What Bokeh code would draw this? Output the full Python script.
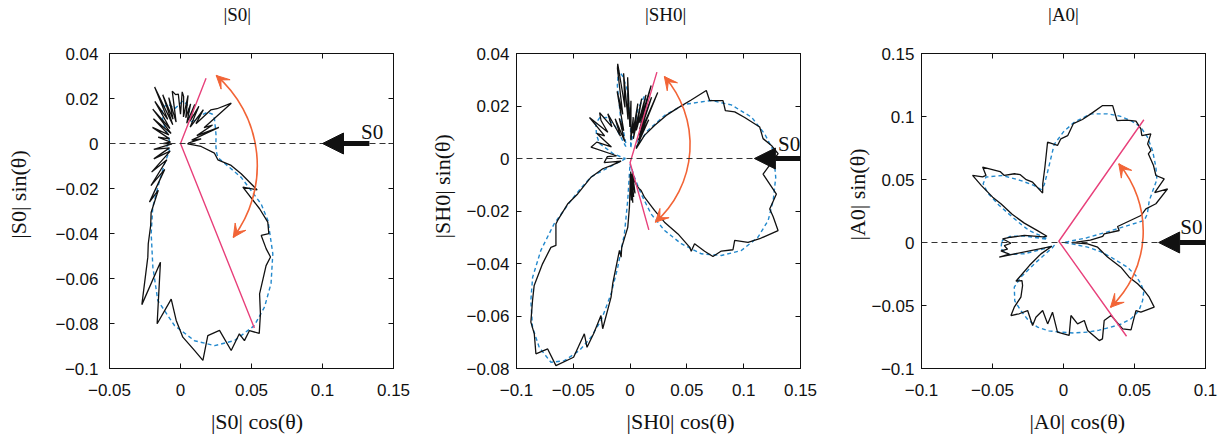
import numpy as np
from bokeh.plotting import figure
from bokeh.layouts import row
from bokeh.models import (Range1d, FixedTicker, LinearAxis, Span, Arrow,
                          NormalHead, VeeHead, Label)
from bokeh.embed import file_html
from bokeh.resources import INLINE

# ------------------------------------------------------------------
# DATA
# angles in degrees, amplitudes in the units of the axes
# ------------------------------------------------------------------

# ---- |S0| panel ----
s0_meas_theta = [-178, -172, -166, -160, -155, -148, -143, -138, -134, -130, -127, -124,
                 -120, -117, -114.5, -110.8, -105, -101.6, -95.4, -92.2, -88.9, -83.9,
                 -80.7, -78.5, -77.3, -71.7, -68.8, -63.9, -62.8, -59.7, -56.7, -53.4,
                 -50.2, -42, -38.5, -37.8, -35.7, -32.8, -29.6, -27.5, -23.8, -20.9,
                 -19.5, -17.5, -15.3, -15.4, -10.2, -5.2, -2,
                 3, 8, 11, 14.9, 17, 20, 23, 26.6, 31, 35, 39, 43, 47, 52, 56, 60, 64,
                 68, 72, 76, 80, 84, 87, 90, 94, 99, 104, 108, 112, 116, 120, 123, 126,
                 130, 134, 138, 142, 146, 150, 155, 160, 165, 170, 175, 180]
s0_meas_amp = [0.006, 0.019, 0.008, 0.020, 0.008, 0.024, 0.012, 0.028, 0.016, 0.034, 0.026, 0.037,
               0.042, 0.050, 0.0555, 0.0766, 0.0546, 0.0818, 0.0695, 0.0787, 0.0861, 0.0925,
               0.0977, 0.0908, 0.0875, 0.0875, 0.0987, 0.0942, 0.0985, 0.0963, 0.101, 0.0944,
               0.087, 0.0811, 0.081, 0.0764, 0.070, 0.074, 0.0707, 0.0628, 0.048, 0.0578,
               0.0516, 0.0448, 0.037, 0.0273, 0.0243, 0.0146, 0.005,
               0.006, 0.0147, 0.008, 0.028, 0.012, 0.024, 0.018, 0.040, 0.030, 0.026, 0.014,
               0.022, 0.010, 0.021, 0.012, 0.020, 0.010, 0.019, 0.012, 0.022, 0.012, 0.021,
               0.023, 0.013, 0.022, 0.022, 0.024, 0.010, 0.022, 0.012, 0.025, 0.010, 0.031,
               0.014, 0.026, 0.010, 0.0248, 0.008, 0.022, 0.009, 0.021, 0.008, 0.016, 0.007, 0.012]
s0_model_theta = [-180, -171, -158, -141.4, -129.5, -124.6, -117.3, -109.5, -102.9, -93,
                  -83.6, -75, -66.5, -57.3, -50.8, -44.3, -37, -29.1, -25.3, -19.4, -13.3,
                  -8, -3, 3, 8, 15, 24.7, 30, 36, 41, 47, 53, 60, 66, 75, 85, 95, 105,
                  112, 117, 125, 133, 141, 150, 160, 170]
s0_model_amp = [0.008, 0.0102, 0.0083, 0.0145, 0.0251, 0.0344, 0.045, 0.0583, 0.0716, 0.081,
                0.0882, 0.093, 0.0955, 0.0962, 0.0937, 0.0891, 0.0814, 0.0705, 0.0628, 0.0453,
                0.027, 0.0255, 0.025, 0.025, 0.0253, 0.0255, 0.0263, 0.026, 0.0237, 0.019,
                0.014, 0.012, 0.013, 0.0153, 0.018, 0.019, 0.017, 0.016, 0.018, 0.0197, 0.020,
                0.019, 0.016, 0.012, 0.009, 0.008]

# ---- |SH0| panel ----
sh0_meas_theta = [-176, -173, -170.9, -170.8, -168.3, -163.7, -162.5, -159.7, -159.1, -153.1,
                  -154.1, -152.5, -150.2, -147.8, -144.5, -141.6, -138.1, -135, -129.6, -123.3,
                  -121.1, -117.8, -115.7, -113.2, -110.4, -107.6, -107.8, -105, -101.9, -102.3,
                  -94.5, -91.8, -90, -88, -86, -84, -82, -80, -78, -75, -72, -69, -65.6, -60,
                  -55, -51.5, -49.4, -42.6, -38.7, -34.3, -32.8, -33.3, -29.8, -28.3, -27.1,
                  -23.7, -21, -18.7, -17.1, -15, -11.9, -10, -8.9, -6, -2.9, 0.8, 2.3, 3.7,
                  6, 8.8, 10.9, 12.3, 15.1, 17.5, 21.1, 22.5, 24.6, 27.3, 30.4, 34.9, 35,
                  38, 42, 44, 46, 48, 51, 53, 56.3, 58, 60, 63, 66, 69, 72, 76, 80, 84, 88,
                  91, 94, 97, 100, 103, 106.8, 108, 111, 114, 118, 122, 126, 131, 135, 139,
                  143, 147, 150.5, 153, 156.4, 159, 162, 165, 168, 172.9, 175, 178]
sh0_meas_amp = [0.023, 0.008, 0.017, 0.0244, 0.0351, 0.0481, 0.0577, 0.068, 0.0699, 0.0732,
                0.0775, 0.0869, 0.0973, 0.1015, 0.1073, 0.1076, 0.1114, 0.1026, 0.1024, 0.0906,
                0.078, 0.0813, 0.0741, 0.0651, 0.0692, 0.0554, 0.0501, 0.0362, 0.0384, 0.0346,
                0.0263, 0.0185, 0.0109, 0.006, 0.016, 0.005, 0.017, 0.006, 0.015, 0.006, 0.014,
                0.006, 0.0092, 0.012, 0.014, 0.0156, 0.0194, 0.0292, 0.0388, 0.051, 0.0623,
                0.0644, 0.0654, 0.0745, 0.0819, 0.0877, 0.097, 0.0972, 0.1086, 0.1181, 0.1331,
                0.1279, 0.1244, 0.1295, 0.1172, 0.1303, 0.1245, 0.1173, 0.1147, 0.1021, 0.0938,
                0.0858, 0.0847, 0.0734, 0.0719, 0.0582, 0.0463, 0.0358, 0.0249, 0.0154, 0.0065,
                0.008, 0.022, 0.010, 0.035, 0.012, 0.030, 0.014, 0.0334, 0.016, 0.028, 0.012,
                0.025, 0.008, 0.022, 0.010, 0.016, 0.007, 0.022, 0.012, 0.031, 0.015, 0.033,
                0.020, 0.0377, 0.036, 0.018, 0.028, 0.012, 0.018, 0.008, 0.020, 0.012, 0.026,
                0.020, 0.032, 0.0294, 0.022, 0.039, 0.024, 0.031, 0.017, 0.030, 0.0347, 0.012,
                0.020]
sh0_model_theta = [-180, -175, -170, -168.5, -165, -162.9, -159.6, -156, -152.2, -148.2, -143.2,
                   -138, -131.9, -126.9, -121.4, -116.8, -112.5, -108, -104.7, -99.9, -97.5,
                   -95.9, -90, -80, -70, -61.8, -54.3, -48.8, -42.1, -35.8, -30.1, -24.7, -19.7,
                   -14.9, -11, -7.2, -3.2, 1.4, 4.5, 8.4, 12.9, 17.2, 23.3, 28.4, 34.4, 39, 45,
                   48, 55, 62, 70, 77, 82, 88, 95, 101.6, 107, 112, 118, 124, 130, 137, 143,
                   150, 156, 163, 168, 173, 178]
sh0_model_amp = [0.004, 0.006, 0.018, 0.035, 0.046, 0.0545, 0.0713, 0.086, 0.097, 0.1028, 0.1073,
                 0.1076, 0.1043, 0.0963, 0.0857, 0.0763, 0.0668, 0.0543, 0.0428, 0.0291, 0.0161,
                 0.0058, 0.002, 0.004, 0.004, 0.008, 0.0166, 0.0281, 0.0409, 0.0555, 0.0724,
                 0.0884, 0.104, 0.1165, 0.1238, 0.127, 0.1284, 0.126, 0.1189, 0.108, 0.0914,
                 0.0748, 0.0521, 0.0345, 0.0189, 0.0068, 0.008, 0.018, 0.026, 0.027, 0.020,
                 0.008, 0.004, 0.012, 0.026, 0.032, 0.035, 0.030, 0.018, 0.006, 0.006, 0.018,
                 0.026, 0.031, 0.033, 0.031, 0.0276, 0.015, 0.006]

# ---- |A0| panel (pattern centred slightly left of x = 0) ----
a0_centre = [-0.003, 0.0]
a0_meas_theta = [-179, -176.4, -171.7, -170.9, -165.2, -164.7, -150, -145, -139, -135.9, -134.8,
                 -131, -127.1, -121.9, -121.7, -120.4, -116.5, -112.4, -105.9, -105.5, -102.2,
                 -97.2, -94.9, -91, -84.6, -81.9, -78.7, -74.1, -74, -70.1, -68.3, -62.9, -57.8,
                 -56.9, -53.9, -51.4, -45, -43.9, -37.5, -34.4, -32.5, -30.7, -29.2, -24.3,
                 -18.8, -7.8, -3.1, -1, 1.5, 5, 9, 12.3, 12.7, 17.2, 20.4, 23.6, 24.3, 29.2,
                 30.5, 34.3, 38, 42.6, 48.3, 48.5, 51.5, 53.2, 55.6, 57.5, 60.7, 64, 67.2, 70.9,
                 74.3, 77.7, 80.5, 84, 86, 89.2, 90.9, 95.9, 99.6, 104, 106.6, 111.4, 115, 117,
                 120, 126, 126.5, 132, 134.1, 136, 138.9, 140.5, 142.5, 143.2, 146, 148, 148.5,
                 150, 158, 167.2, 173, 175.8, 177.6]
a0_meas_amp = [0.034, 0.0388, 0.0368, 0.0416, 0.0364, 0.0438, 0.006, 0.0157, 0.0279, 0.0376,
               0.0433, 0.040, 0.0428, 0.0511, 0.0603, 0.0672, 0.0632, 0.0584, 0.0685, 0.0615,
               0.0552, 0.0651, 0.0555, 0.0712, 0.0741, 0.0585, 0.0659, 0.0644, 0.0726, 0.0828,
               0.0823, 0.0695, 0.0684, 0.0818, 0.0858, 0.0827, 0.0764, 0.0798, 0.0843, 0.0768,
               0.071, 0.0642, 0.0564, 0.0476, 0.0359, 0.0273, 0.020, 0.009, 0.012, 0.022, 0.031,
               0.0324, 0.0433, 0.043, 0.0614, 0.0666, 0.0747, 0.0874, 0.078, 0.0895, 0.0864,
               0.0902, 0.0943, 0.0975, 0.100, 0.1077, 0.1029, 0.107, 0.1104, 0.108, 0.105,
               0.115, 0.1129, 0.1045, 0.099, 0.0948, 0.085, 0.0823, 0.077, 0.080, 0.0606,
               0.048, 0.0409, 0.0514, 0.055, 0.0604, 0.063, 0.0658, 0.070, 0.0806, 0.0741,
               0.075, 0.081, 0.071, 0.0591, 0.0513, 0.040, 0.029, 0.018, 0.010, 0.012, 0.0252,
               0.0343, 0.040, 0.0376]
a0_model_theta = [-180, -173, -165, -160, -155, -148, -140, -136, -134.5, -131.8, -124, -116.6,
                  -110, -102.8, -96, -89, -82, -74.3, -68, -61.6, -56, -50.2, -44, -38.1, -33,
                  -29.7, -26, -22.2, -17.7, -14, -10.5, -6, 0, 6, 11, 14, 16.3, 20, 27.7, 36,
                  41.3, 48, 53.4, 57.9, 62.5, 67, 71.6, 77.7, 83.7, 88, 92.6, 98.4, 103, 107,
                  111.3, 118.8, 126.9, 134.8, 139, 142, 145, 148.6, 152, 155.8, 160.5, 164, 168,
                  172, 177.7]
a0_model_amp = [0.0405, 0.0414, 0.037, 0.026, 0.012, 0.004, 0.006, 0.0244, 0.0385, 0.0475, 0.056,
                0.0604, 0.065, 0.0689, 0.0705, 0.0712, 0.0725, 0.0739, 0.075, 0.0764, 0.078,
                0.0789, 0.078, 0.0746, 0.071, 0.0662, 0.060, 0.0519, 0.0382, 0.030, 0.0203,
                0.008, 0.003, 0.006, 0.020, 0.035, 0.0624, 0.066, 0.0716, 0.085, 0.0906, 0.0982,
                0.1042, 0.108, 0.1092, 0.109, 0.1076, 0.1045, 0.096, 0.088, 0.078, 0.0564, 0.047,
                0.044, 0.0485, 0.0561, 0.0665, 0.0732, 0.071, 0.064, 0.052, 0.0385, 0.030,
                0.0232, 0.0087, 0.010, 0.025, 0.035, 0.040]

# angular-window limit lines (x, y) through the pattern centre
s0_limit_x = [0.018, 0.0, 0.052]
s0_limit_y = [0.029, 0.0, -0.082]
sh0_limit_x = [0.0236, 0.0, 0.0165]
sh0_limit_y = [0.0329, -0.0016, -0.0272]
a0_limit_x = [0.0566, -0.0033, 0.0444]
a0_limit_y = [0.0974, 0.001, -0.0744]

# incident S0 wave arrow: [x_tail, x_head], label position
s0_incident = [0.133, 0.100]
sh0_incident = [0.150, 0.1094]
a0_incident = [0.100, 0.067]
s0_inc_label = [0.135, 0.0053]
sh0_inc_label = [0.140, 0.0057]
a0_inc_label = [0.090, 0.0121]

# axes
s0_xticks = [-0.05, 0, 0.05, 0.1, 0.15]
s0_xlabels = ["\u22120.05", "0", "0.05", "0.1", "0.15"]
s0_yticks = [-0.1, -0.08, -0.06, -0.04, -0.02, 0, 0.02, 0.04]
s0_ylabels = ["\u22120.1", "\u22120.08", "\u22120.06", "\u22120.04", "\u22120.02", "0", "0.02", "0.04"]
sh0_xticks = [-0.1, -0.05, 0, 0.05, 0.1, 0.15]
sh0_xlabels = ["\u22120.1", "\u22120.05", "0", "0.05", "0.1", "0.15"]
sh0_yticks = [-0.08, -0.06, -0.04, -0.02, 0, 0.02, 0.04]
sh0_ylabels = ["\u22120.08", "\u22120.06", "\u22120.04", "\u22120.02", "0", "0.02", "0.04"]
a0_xticks = [-0.1, -0.05, 0, 0.05, 0.1]
a0_xlabels = ["\u22120.1", "\u22120.05", "0", "0.05", "0.1"]
a0_yticks = [-0.1, -0.05, 0, 0.05, 0.1, 0.15]
a0_ylabels = ["\u22120.1", "\u22120.05", "0", "0.05", "0.1", "0.15"]

# ------------------------------------------------------------------
FRAME_W, FRAME_H = 284, 315
BLACK = "#111111"
BLUE = "#2389CD"
PINK = "#E8417B"
ORANGE = "#F26436"
SERIF = "Liberation Serif"
SANS = "Liberation Sans"
NB = "\u00a0"   # padding used to nudge centred captions sideways


def polar_xy(theta, amp, centre=(0.0, 0.0)):
    t = np.radians(np.asarray(theta, dtype=float))
    a = np.asarray(amp, dtype=float)
    x = a * np.cos(t) + centre[0]
    y = a * np.sin(t) + centre[1]
    return list(np.append(x, x[0])), list(np.append(y, y[0]))


def pad(text, n):
    # n > 0: shift right/up ; n < 0: shift left/down
    return NB * n + text if n >= 0 else text + NB * (-n)


def make_panel(name, xr, yr, xticks, xlabels, yticks, ylabels,
               meas, model, centre, limit_x, limit_y, incident, inc_label,
               arc, border, shifts, ylab_standoff, ytick_standoff):
    p = figure(frame_width=FRAME_W, frame_height=FRAME_H, title=None,
               x_range=Range1d(*xr), y_range=Range1d(*yr),
               output_backend="svg", toolbar_location=None, x_axis_type=None,
               y_axis_type=None,
               min_border_left=border[0], min_border_right=border[1],
               min_border_top=53, min_border_bottom=72)
    p.grid.visible = False
    p.outline_line_color = BLACK
    p.outline_line_width = 1
    p.background_fill_color = "white"

    def axis(ticks, labels, show):
        ax = LinearAxis(ticker=FixedTicker(ticks=ticks, minor_ticks=[]))
        ax.major_tick_in = 5
        ax.major_tick_out = 0
        ax.minor_tick_line_color = None
        ax.axis_line_color = BLACK
        ax.major_tick_line_color = BLACK
        ax.axis_label_text_font = SERIF
        ax.axis_label_text_font_style = "normal"
        ax.axis_label_text_color = BLACK
        ax.axis_label_text_font_size = "22px"
        if show:
            ax.major_label_overrides = {t: l for t, l in zip(ticks, labels)}
            ax.major_label_text_font = SANS
            ax.major_label_text_font_size = "17px"
            ax.major_label_text_color = BLACK
        else:
            ax.major_label_text_font_size = "1px"
            ax.major_label_text_color = None
            ax.major_label_standoff = 0
        return ax

    xb = axis(xticks, xlabels, True)
    xb.major_label_standoff = 15
    xb.axis_label = pad("|%s| cos(\u03b8)" % name, shifts[1])
    xb.axis_label_standoff = 10
    p.add_layout(xb, "below")

    yl = axis(yticks, ylabels, True)
    yl.major_label_standoff = ytick_standoff
    yl.axis_label = pad("|%s| sin(\u03b8)" % name, shifts[2])
    yl.axis_label_standoff = ylab_standoff
    p.add_layout(yl, "left")

    top = axis(xticks, xlabels, False)
    top.axis_label = pad("|%s|" % name, shifts[0])
    top.axis_label_text_font_size = "19px"
    top.axis_label_standoff = 29
    p.add_layout(top, "above")
    p.add_layout(axis(yticks, ylabels, False), "right")

    # incident direction dashed line
    p.add_layout(Span(location=0, dimension="width", line_color="#333333",
                      line_dash="6 4", line_width=1))

    # model (dashed blue) and measured (black) amplitude patterns
    mx, my = polar_xy(model[0], model[1], centre)
    p.line(mx, my, line_color=BLUE, line_width=1.4, line_dash="4 3")
    bx, by = polar_xy(meas[0], meas[1], centre)
    p.line(bx, by, line_color=BLACK, line_width=1.3)

    # angular window limits
    p.line(limit_x, limit_y, line_color=PINK, line_width=1.4)

    # curved double arrow (circle in screen space)
    cx, cy, R, a_top, a_bot = arc
    p.arc(x=[cx], y=[cy], radius=R, radius_units="screen",
          start_angle=a_bot, end_angle=a_top,
          start_angle_units="deg", end_angle_units="deg",
          line_color=ORANGE, line_width=1.6)
    kx = FRAME_W / (xr[1] - xr[0])
    ky = FRAME_H / (yr[1] - yr[0])

    def on_arc(deg):
        t = np.radians(deg)
        return cx + R * np.cos(t) / kx, cy + R * np.sin(t) / ky

    d = np.degrees(12.0 / R)
    for tip, back in ((a_top, a_top - d), (a_bot, a_bot + d)):
        x0, y0 = on_arc(back)
        x1, y1 = on_arc(tip)
        p.add_layout(Arrow(end=VeeHead(size=13, fill_color=ORANGE, line_color=ORANGE,
                                       line_width=1),
                           x_start=x0, y_start=y0, x_end=x1, y_end=y1,
                           line_alpha=0, line_width=0))

    # incident wave arrow
    p.add_layout(Arrow(end=NormalHead(size=21, fill_color=BLACK, line_color=BLACK),
                       x_start=incident[0], y_start=0, x_end=incident[1], y_end=0,
                       line_color=BLACK, line_width=5))
    p.add_layout(Label(x=inc_label[0], y=inc_label[1], text="S0", text_font=SERIF,
                       text_font_size="21px", text_align="center",
                       text_baseline="middle", text_color=BLACK))
    return p


p1 = make_panel("S0", (-0.05, 0.15), (-0.1, 0.04), s0_xticks, s0_xlabels, s0_yticks, s0_ylabels,
                (s0_meas_theta, s0_meas_amp), (s0_model_theta, s0_model_amp), (0.0, 0.0),
                s0_limit_x, s0_limit_y, s0_incident, s0_inc_label,
                (-0.030, -0.0098, 119.4, 49.0, -37.0), (109, 23),
                (-6, 2, 6), 21, 11)
p2 = make_panel("SH0", (-0.1, 0.15), (-0.08, 0.04), sh0_xticks, sh0_xlabels, sh0_yticks,
                sh0_ylabels, (sh0_meas_theta, sh0_meas_amp), (sh0_model_theta, sh0_model_amp),
                (0.0, 0.0), sh0_limit_x, sh0_limit_y, sh0_incident, sh0_inc_label,
                (-0.0383, 0.0052, 103.5, 41.3, -48.4), (100, 21),
                (3, 8, 9), 8, 7)
p3 = make_panel("A0", (-0.1, 0.1), (-0.1, 0.15), a0_xticks, a0_xlabels, a0_yticks, a0_ylabels,
                (a0_meas_theta, a0_meas_amp), (a0_model_theta, a0_model_amp), tuple(a0_centre),
                a0_limit_x, a0_limit_y, a0_incident, a0_inc_label,
                (-0.0178, 0.009, 105.0, 39.9, -46.5), (100, 20),
                (0, 5, 6), -2, 7)

layout = row(p1, p2, p3, spacing=0)
open("out.html", "w").write(file_html(layout, INLINE))
